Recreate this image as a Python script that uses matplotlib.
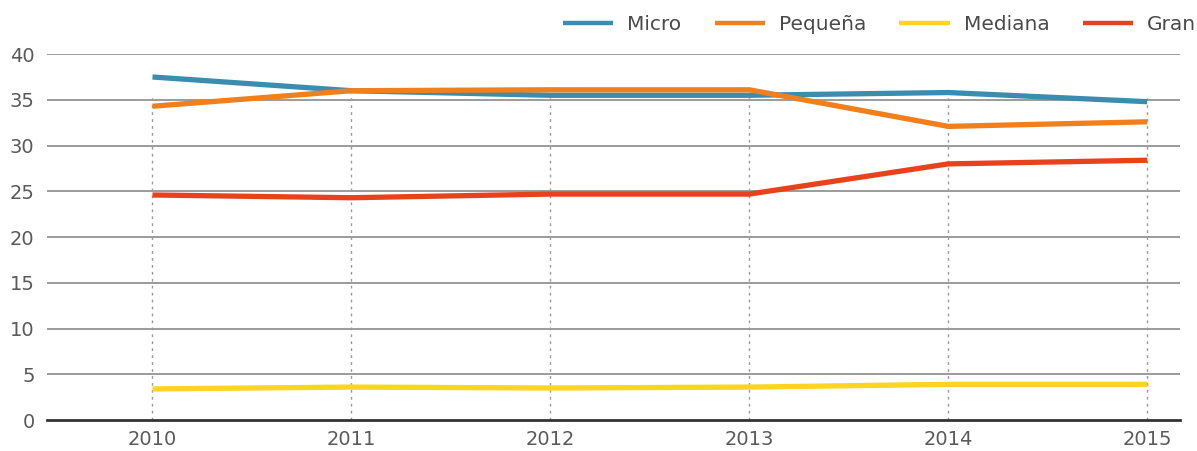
import matplotlib
matplotlib.use("Agg")
import matplotlib.pyplot as plt

years = [2010, 2011, 2012, 2013, 2014, 2015]
micro = [37.5, 36.0, 35.5, 35.5, 35.8, 34.8]
pequena = [34.3, 36.0, 36.1, 36.1, 32.1, 32.6]
mediana = [3.4, 3.6, 3.5, 3.6, 3.9, 3.9]
gran = [24.6, 24.3, 24.7, 24.7, 28.0, 28.4]
y_ticks = [0, 5, 10, 15, 20, 25, 30, 35, 40]

series = [
    ("Micro", micro, "#3b8db0"),
    ("Pequeña", pequena, "#f07f1c"),
    ("Mediana", mediana, "#fdd421"),
    ("Gran", gran, "#e8421d"),
]

plt.rcParams['font.family'] = ['DejaVu Sans']

fig = plt.figure(figsize=(11.97, 4.51), dpi=100)
ax = fig.add_axes([0.0393, 0.0687, 0.9467, 0.8113])

for yv in y_ticks[1:]:
    ax.axhline(yv, color="#8a8a8a", lw=1.2, zorder=1)
ax.vlines(years, 0, 35.5, colors="#9a9a9a", linestyles=(0, (2, 3)), lw=1.0, zorder=1)

handles = []
for name, vals, col in series:
    h, = ax.plot(years, vals, color=col, lw=3.8, label=name, zorder=3, solid_capstyle='butt')
    handles.append(h)

ax.set_ylim(0, 40)
ax.set_xlim(2009.47, 2015.166)
ax.set_yticks(y_ticks)
ax.set_xticks(years)
ax.set_xticklabels([str(y) for y in years])
for s in ["top", "right", "left"]:
    ax.spines[s].set_visible(False)
ax.spines["bottom"].set_color("#333333")
ax.spines["bottom"].set_linewidth(2.0)
ax.tick_params(axis="both", length=0, colors="#5a5a5a", labelsize=14)
ax.tick_params(axis="y", pad=9)
ax.tick_params(axis="x", pad=7)
ax.set_facecolor("white")

leg = fig.legend(handles=handles, loc="center left", bbox_to_anchor=(0.4703, 0.946),
                 ncol=4, frameon=False, fontsize=14.5, handlelength=2.49, columnspacing=1.65,
                 handletextpad=0.7, labelcolor="#4a4a4a", borderpad=0, borderaxespad=0)
for line in leg.get_lines():
    line.set_linewidth(3.2)

fig.savefig("out.png", dpi=100, facecolor="white")
